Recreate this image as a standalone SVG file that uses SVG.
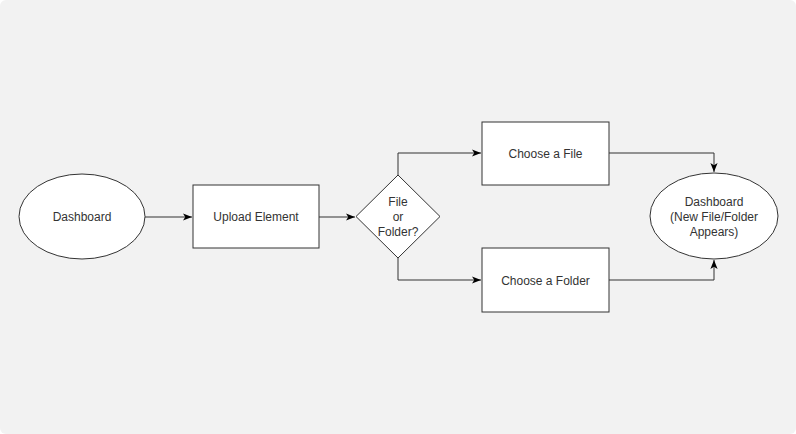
<svg xmlns="http://www.w3.org/2000/svg" width="796" height="434" viewBox="0 0 796 434">
<defs>
<style>
.shape{fill:#fff;stroke:#333;stroke-width:1}
.edge{fill:none;stroke:#333;stroke-width:1}
text{font-family:"Liberation Sans",Arial,sans-serif;font-size:12px;fill:#333;text-anchor:middle}
</style>
<marker id="arr" viewBox="0 0 10 10" refX="10" refY="5" markerWidth="9" markerHeight="9" markerUnits="userSpaceOnUse" orient="auto">
<path d="M0,1 L10,5 L0,9 L2.5,5 Z" fill="#000"/>
</marker>
</defs>
<rect x="0" y="0" width="796" height="434" rx="6" fill="#f2f2f2"/>
<g id="connectors">
<path class="edge" d="M145,217 H192" marker-end="url(#arr)"/>
<path class="edge" d="M319,217 H355" marker-end="url(#arr)"/>
<path class="edge" d="M398,175 V153 H481" marker-end="url(#arr)"/>
<path class="edge" d="M398,258 V280 H481" marker-end="url(#arr)"/>
<path class="edge" d="M609,153 H714 V172" marker-end="url(#arr)"/>
<path class="edge" d="M609,280 H714 V260" marker-end="url(#arr)"/>
</g>
<g id="dashboard">
<ellipse class="shape" cx="82" cy="216.5" rx="63" ry="42.5"/>
<text x="82" y="221">Dashboard</text>
</g>
<g id="upload">
<rect class="shape" x="193" y="185" width="126" height="63"/>
<text x="256" y="221">Upload Element</text>
</g>
<g id="decision">
<path class="shape" d="M398,175 L440,216.5 L398,258 L356,216.5 Z"/>
<text x="398" y="206">File</text>
<text x="398" y="221">or</text>
<text x="398" y="236">Folder?</text>
</g>
<g id="choose-file">
<rect class="shape" x="482" y="122" width="127" height="63"/>
<text x="545.5" y="158">Choose a File</text>
</g>
<g id="choose-folder">
<rect class="shape" x="482" y="248" width="127" height="64"/>
<text x="545.5" y="285">Choose a Folder</text>
</g>
<g id="dashboard-result">
<ellipse class="shape" cx="714" cy="216" rx="64" ry="43"/>
<text x="714" y="206">Dashboard</text>
<text x="714" y="221">(New File/Folder</text>
<text x="714" y="236">Appears)</text>
</g>
</svg>
